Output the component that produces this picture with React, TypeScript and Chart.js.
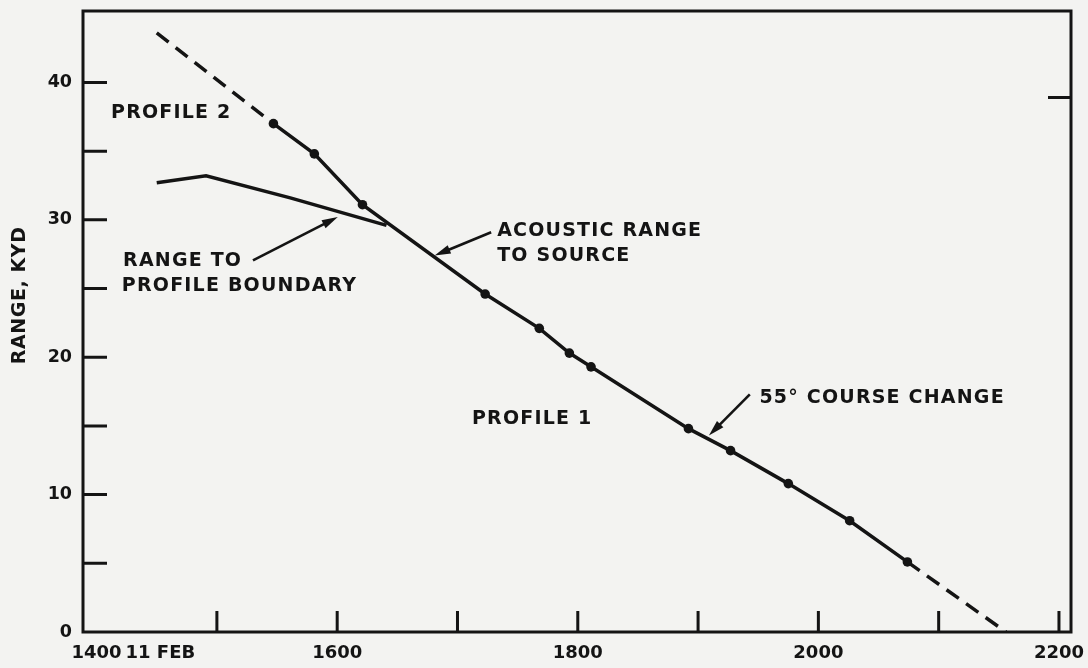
import React, { useEffect, useRef } from 'react';
import { Chart, registerables } from 'chart.js';

Chart.register(...registerables);

// ---- data ----
const acousticTime = [1450, 1547, 1581, 1621, 1723, 1768, 1793, 1811, 1892, 1927, 1975, 2026, 2074, 2156];
const acousticRange = [43.6, 37.0, 34.8, 31.1, 24.6, 22.1, 20.3, 19.3, 14.8, 13.2, 10.8, 8.1, 5.1, 0];
const acousticMarked = [false, true, true, true, true, true, true, true, true, true, true, true, true, false];

const boundaryTime = [1450, 1491, 1561, 1641];
const boundaryRange = [32.7, 33.2, 31.6, 29.6];

const xLabelValues = [1400, 1453, 1600, 1800, 2000, 2200];
const xLabelTexts = ['1400', '11 FEB', '1600', '1800', '2000', '2200'];
const xMarkValues = [1500, 1600, 1700, 1800, 1900, 2000, 2100, 2200];

const yLabelValues = [0, 10, 20, 30, 40];
const yMarkValuesLeft = [5, 10, 15, 20, 25, 30, 35, 40];
const yMarkValuesRight = [38.9];

// annotation anchors in data space (time, range)
const noteTexts = ['PROFILE 2', 'RANGE TO', 'PROFILE BOUNDARY', 'ACOUSTIC RANGE', 'TO SOURCE', '55° COURSE CHANGE', 'PROFILE 1'];
const noteTimes = [1412, 1422, 1421, 1733, 1733, 1951, 1712];
const noteRanges = [37.75, 27.0, 25.2, 29.2, 27.35, 17.0, 15.5];

const arrowFromTime = [1530, 1728, 1943];
const arrowFromRange = [27.05, 29.1, 17.3];
const arrowToTime = [1600.5, 1681, 1909];
const arrowToRange = [30.2, 27.4, 14.3];

const INK = '#141414';
const PAPER = '#f3f3f1';
const FAMILY = '"DejaVu Sans", "Liberation Sans", sans-serif';

function drawArrow(ctx: CanvasRenderingContext2D, x1: number, y1: number, x2: number, y2: number) {
  const ang = Math.atan2(y2 - y1, x2 - x1);
  const L = 16;
  const W = 4.5;
  const c = Math.cos(ang);
  const s = Math.sin(ang);
  const bx = x2 - L * c;
  const by = y2 - L * s;
  ctx.beginPath();
  ctx.moveTo(x1, y1);
  ctx.lineTo(bx + 2 * c, by + 2 * s);
  ctx.lineWidth = 2.6;
  ctx.stroke();
  ctx.beginPath();
  ctx.moveTo(x2, y2);
  ctx.lineTo(bx + W * s, by - W * c);
  ctx.lineTo(bx - W * s, by + W * c);
  ctx.closePath();
  ctx.fill();
}

const paperPlugin = {
  id: 'paper',
  beforeDraw(chart: any) {
    const ctx = chart.ctx as CanvasRenderingContext2D;
    ctx.save();
    ctx.fillStyle = PAPER;
    ctx.fillRect(0, 0, chart.width, chart.height);
    ctx.restore();
  },
  afterDraw(chart: any) {
    const ctx = chart.ctx as CanvasRenderingContext2D;
    const a = chart.chartArea;
    const xs = chart.scales.x;
    const ys = chart.scales.y;
    ctx.save();
    ctx.strokeStyle = INK;
    ctx.fillStyle = INK;
    ctx.lineWidth = 3;
    ctx.lineCap = 'butt';
    ctx.strokeRect(a.left, a.top, a.right - a.left, a.bottom - a.top);

    // inward tick marks
    ctx.beginPath();
    yMarkValuesLeft.forEach((v) => {
      const p = ys.getPixelForValue(v);
      ctx.moveTo(a.left, p);
      ctx.lineTo(a.left + 24, p);
    });
    yMarkValuesRight.forEach((v) => {
      const p = ys.getPixelForValue(v);
      ctx.moveTo(a.right, p);
      ctx.lineTo(a.right - 23, p);
    });
    xMarkValues.forEach((v) => {
      const p = xs.getPixelForValue(v);
      ctx.moveTo(p, a.bottom);
      ctx.lineTo(p, a.bottom - 21);
    });
    ctx.stroke();

    // annotation texts
    ctx.font = `bold 19px ${FAMILY}`;
    (ctx as any).letterSpacing = '1.2px';
    ctx.textAlign = 'left';
    ctx.textBaseline = 'middle';
    noteTexts.forEach((t, i) => {
      ctx.fillText(t, xs.getPixelForValue(noteTimes[i]), ys.getPixelForValue(noteRanges[i]));
    });

    // arrows
    arrowFromTime.forEach((_, i) => {
      drawArrow(
        ctx,
        xs.getPixelForValue(arrowFromTime[i]),
        ys.getPixelForValue(arrowFromRange[i]),
        xs.getPixelForValue(arrowToTime[i]),
        ys.getPixelForValue(arrowToRange[i])
      );
    });

    // y axis title
    ctx.save();
    (ctx as any).letterSpacing = '0.6px';
    ctx.font = `bold 19px ${FAMILY}`;
    ctx.translate(ys.left + 20, ys.getPixelForValue(24.5));
    ctx.rotate(-Math.PI / 2);
    ctx.textAlign = 'center';
    ctx.textBaseline = 'middle';
    ctx.fillText('RANGE, KYD', 0, 0);
    ctx.restore();

    ctx.restore();
  },
};

export default function App() {
  const canvasRef = useRef<HTMLCanvasElement | null>(null);

  useEffect(() => {
    document.body.style.margin = '0';
    document.body.style.background = PAPER;
    const canvas = canvasRef.current;
    if (!canvas) return;
    const n = acousticTime.length;
    const chart = new Chart(canvas, {
      type: 'line',
      data: {
        datasets: [
          {
            label: 'Acoustic range to source',
            data: acousticTime.map((t, i) => ({ x: t, y: acousticRange[i] })),
            borderColor: INK,
            backgroundColor: INK,
            pointBackgroundColor: INK,
            pointBorderColor: INK,
            borderWidth: 3.5,
            borderCapStyle: 'butt',
            pointRadius: acousticMarked.map((m) => (m ? 4.8 : 0)),
            pointHoverRadius: 0,
            pointBorderWidth: 0,
            tension: 0,
            fill: false,
            segment: {
              borderDash: (c: any) =>
                c.p0DataIndex === 0 || c.p1DataIndex === n - 1 ? [15, 9] : undefined,
            },
          } as any,
          {
            label: 'Range to profile boundary',
            data: boundaryTime.map((t, i) => ({ x: t, y: boundaryRange[i] })),
            borderColor: INK,
            backgroundColor: INK,
            borderWidth: 3.5,
            pointRadius: 0,
            pointHoverRadius: 0,
            tension: 0,
            fill: false,
          },
        ],
      },
      options: {
        animation: false,
        responsive: false,
        devicePixelRatio: 1,
        events: [],
        layout: { padding: { top: 11, right: 17, left: 0, bottom: 0 } },
        plugins: {
          legend: { display: false },
          tooltip: { enabled: false },
        },
        scales: {
          x: {
            type: 'linear',
            min: 1388.7,
            max: 2210,
            grid: { display: false, drawTicks: false },
            border: { display: false },
            afterBuildTicks: (s: any) => {
              s.ticks = xLabelValues.map((v) => ({ value: v }));
            },
            afterFit: (s: any) => {
              s.height = 36;
              s.paddingLeft = 0;
              s.paddingRight = 0;
              s.paddingTop = 0;
              s.paddingBottom = 0;
            },
            ticks: {
              autoSkip: false,
              maxRotation: 0,
              minRotation: 0,
              includeBounds: false,
              padding: 11,
              color: INK,
              font: { family: FAMILY, size: 18, weight: 'bold' },
              callback: (_v: any, i: number) => xLabelTexts[i],
            },
          },
          y: {
            type: 'linear',
            min: 0,
            max: 45.2,
            grid: { display: false, drawTicks: false },
            border: { display: false },
            afterBuildTicks: (s: any) => {
              s.ticks = yLabelValues.map((v) => ({ value: v }));
            },
            afterFit: (s: any) => {
              s.width = 83;
              s.paddingLeft = 0;
              s.paddingRight = 0;
              s.paddingTop = 0;
              s.paddingBottom = 0;
            },
            ticks: {
              autoSkip: false,
              includeBounds: false,
              padding: 11,
              color: INK,
              font: { family: FAMILY, size: 17.5, weight: 'bold' },
              callback: (v: any) => String(v),
            },
          },
        },
      } as any,
      plugins: [paperPlugin],
    });
    return () => chart.destroy();
  }, []);

  return (
    <div style={{ width: 1088, height: 668 }}>
      <canvas ref={canvasRef} width={1088} height={668} style={{ display: 'block' }} />
    </div>
  );
}
